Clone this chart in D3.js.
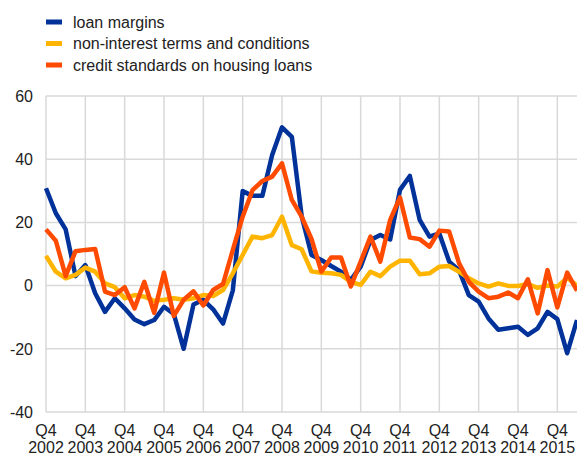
<!DOCTYPE html>
<html>
<head>
<meta charset="utf-8">
<script src="https://cdn.jsdelivr.net/npm/d3@7"></script>
<style>
  body { margin: 0; background: #fff; }
  svg { font-family: "Liberation Sans", Arial, sans-serif; }
</style>
</head>
<body>
<svg id="chart" width="577" height="455"></svg>
<script>
// quarterly series, Q4 2002 .. Q2 2016
const loanMargins = [30.8, 22.9, 17.8, 3.0, 6.5, -2.4, -8.3, -4, -7.2, -10.7,
  -12.2, -10.9, -6.7, -9, -20, -6, -4.5, -7.5, -12, -1.5,
  29.9, 28.4, 28.4, 41.3, 50.1, 47.1, 22, 9.7, 8.1, 6.2,
  4.4, 1.8, 6, 14.4, 16, 14.6, 30.3, 34.7, 20.8, 15.5,
  16.5, 7.6, 4.9, -3, -5.1, -10.4, -14, -13.5, -13, -15.6,
  -13.5, -8.3, -10.6, -21.4, -10.9];
const nonInterest = [9.4, 4.4, 2.3, 3.4, 5.7, 4.4, 0.7, -0.5, -4, -3,
  -3.5, -4.8, -4.5, -4, -4.5, -4, -3, -3.3, -1.4, 3.9,
  9.7, 15.5, 15, 16, 21.8, 12.8, 11.5, 4.5, 4.1, 3.9,
  3.4, 1.2, 0.2, 4.4, 3, 6, 7.9, 7.9, 3.6, 3.9,
  6, 6.2, 4.4, 2.3, 0.7, -0.3, 0.7, -0.1, -0.1, 0.5,
  -0.7, 0, -0.3, 2.5, 0];
const creditStandards = [17.8, 14.2, 3.0, 10.9, 11.3, 11.6, -1.9, -3.0, -0.5, -7.2,
  1.2, -8.6, 4.1, -9.6, -4.5, -1.8, -6.3, -1.4, 0.5, 11.3,
  21.8, 30.2, 33.1, 34.5, 38.7, 27.1, 21.8, 14.8, 4.4, 8.9,
  8.9, -0.3, 7.6, 15.5, 7.6, 20.8, 27.9, 15.2, 14.7, 12.3,
  17.4, 17.1, 7.1, 1.2, -1.9, -4, -3.5, -2.2, -4, 2,
  -8.8, 4.9, -6.9, 4.1, -1.6];

const years = ["2002", "2003", "2004", "2005", "2006", "2007", "2008",
  "2009", "2010", "2011", "2012", "2013", "2014", "2015"];
const yTicks = [-40, -20, 0, 20, 40, 60];

const series = [
  { name: "loan margins", values: loanMargins, color: "#003299" },
  { name: "non-interest terms and conditions", values: nonInterest, color: "#ffb400" },
  { name: "credit standards on housing loans", values: creditStandards, color: "#ff4b00" }
];

const svg = d3.select("#chart"),
  margin = { top: 96, right: 0, bottom: 43, left: 46 },
  width = +svg.attr("width") - margin.left - margin.right,
  height = +svg.attr("height") - margin.top - margin.bottom;

const g = svg.append("g")
  .attr("transform", `translate(${margin.left},${margin.top})`);

const x = d3.scaleLinear().domain([0, loanMargins.length - 1]).range([0, width]);
const y = d3.scaleLinear().domain([-40, 60]).range([height, 0]);

// one Q4 tick per year
const xTicks = years.map((d, i) => i * 4);

// grid
g.append("g")
  .selectAll("line")
  .data(yTicks)
  .join("line")
  .attr("x1", 0)
  .attr("x2", width)
  .attr("y1", (d) => y(d))
  .attr("y2", (d) => y(d))
  .attr("stroke", "#d9d9d9")
  .attr("stroke-width", 1.5);

g.append("g")
  .selectAll("line")
  .data(xTicks)
  .join("line")
  .attr("x1", (d) => x(d))
  .attr("x2", (d) => x(d))
  .attr("y1", 0)
  .attr("y2", height)
  .attr("stroke", "#d9d9d9")
  .attr("stroke-width", 1.5);

// y labels
g.append("g")
  .selectAll("text")
  .data(yTicks)
  .join("text")
  .attr("x", -13)
  .attr("y", (d) => y(d))
  .attr("dy", "0.36em")
  .attr("text-anchor", "end")
  .attr("font-size", 16)
  .attr("fill", "#222")
  .text((d) => d);

// x labels, two lines
const xl = g.append("g")
  .selectAll("text")
  .data(xTicks)
  .join("text")
  .attr("text-anchor", "middle")
  .attr("font-size", 16)
  .attr("fill", "#222");
xl.append("tspan")
  .attr("x", (d) => x(d))
  .attr("y", height + 24)
  .text("Q4");
xl.append("tspan")
  .attr("x", (d) => x(d))
  .attr("y", height + 41)
  .text((d, i) => years[i]);

// lines
const lineGen = d3.line()
  .x((d, i) => x(i))
  .y((d) => y(d));

g.selectAll(".line-path")
  .data(series)
  .join("path")
  .attr("class", "line-path")
  .attr("fill", "none")
  .attr("stroke", (d) => d.color)
  .attr("stroke-width", 4.5)
  .attr("stroke-linejoin", "round")
  .attr("d", (d) => lineGen(d.values));

// legend
const legend = svg.append("g")
  .selectAll("g")
  .data(series)
  .join("g")
  .attr("transform", (d, i) => `translate(46,${22 + i * 21.5})`);
legend.append("rect")
  .attr("x", 0)
  .attr("y", -2.5)
  .attr("width", 16)
  .attr("height", 5)
  .attr("fill", (d) => d.color);
legend.append("text")
  .attr("x", 27)
  .attr("dy", "0.36em")
  .attr("font-size", 16)
  .attr("fill", "#222")
  .text((d) => d.name);
</script>
</body>
</html>
